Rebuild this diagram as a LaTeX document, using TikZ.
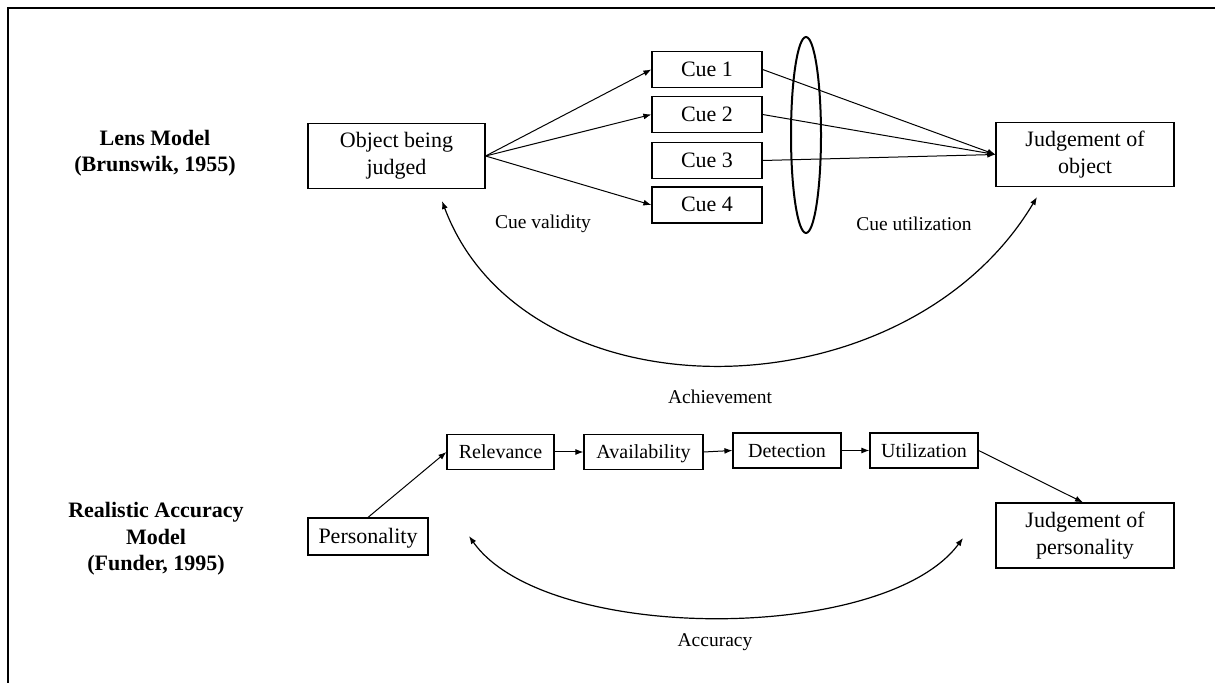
\documentclass[tikz,border=0pt]{standalone}
\usepackage{fontspec}
\setmainfont{Liberation Serif}
\usetikzlibrary{arrows.meta,shapes.geometric}

\begin{document}
\begin{tikzpicture}[x=0.5pt,y=-0.5pt,
  bigbox/.style={draw, line width=0.6pt, inner sep=0pt, align=center,
    font=\fontsize{11}{13.5}\selectfont},
  oneline/.style={text height=0.66em, text depth=0pt},
  chainbox/.style={bigbox, oneline, font=\fontsize{10}{12}\selectfont,
    minimum width=54pt, minimum height=17.5pt},
  cuebox/.style={bigbox, oneline, minimum width=55pt, minimum height=18pt},
  lbl/.style={inner sep=0pt, font=\fontsize{9.75}{12}\selectfont},
  heading/.style={inner sep=0pt, align=center,
    font=\fontsize{11}{13.25}\selectfont\bfseries},
  tip/.style={-{Latex[length=4pt,width=3pt]}},
  conn/.style={line width=0.5pt, tip},
  twoway/.style={line width=0.6pt, {Latex[length=4pt,width=3pt]}-{Latex[length=4pt,width=3pt]}},
]
\useasboundingbox (0,0) rectangle (1215,683);

% page frame (top and left rules)
\draw[line width=1pt] (8,683) -- (8,8) -- (1215,8);

% ---------- Lens Model ----------
\node[heading] (lenstitle) at (155,153) {Lens Model\\(Brunswik, 1955)};

\node[bigbox, minimum width=88.5pt, minimum height=32.5pt] (obj) at (396.5,156)
  {Object being\\judged};
\node[cuebox] (cue1) at (707,69.5) {Cue 1};
\node[cuebox] (cue2) at (707,114.5) {Cue 2};
\node[cuebox] (cue3) at (707,160.5) {Cue 3};
\node[cuebox] (cue4) at (707,205) {Cue 4};
\node[bigbox, minimum width=89pt, minimum height=32pt] (jobj) at (1085,154.5)
  {Judgement of\\object};

\node[draw, ellipse, line width=1pt, inner sep=0pt,
  minimum width=15pt, minimum height=98pt] (lens) at (806,135) {};

\foreach \c in {cue1,cue2,cue4}
  \draw[conn] (obj.east) -- (\c.west);
\foreach \c in {cue1,cue2,cue3}
  \draw[conn] (\c.east) -- (jobj.west);

\node[lbl] (validity) at (543,224) {Cue validity};
\node[lbl] (utilization) at (914,224) {Cue utilization};

\coordinate (achL) at (442,201);
\coordinate (achR) at (1037,197);
\draw[twoway] (achL) .. controls (525,422) and (905,418) .. (achR);
\node[lbl] (achievement) at (720,397) {Achievement};

% ---------- Realistic Accuracy Model ----------
\node[heading] (ramtitle) at (156,539)
  {Realistic Accuracy\\Model\\(Funder, 1995)};

\node[bigbox, oneline, minimum width=60pt, minimum height=18.5pt] (pers) at (368,536.5)
  {Personality};
\node[chainbox, minimum width=53.5pt] (rel) at (500.5,452) {Relevance};
\node[chainbox, minimum width=59.5pt] (avail) at (643.5,452) {Availability};
\node[chainbox] (det) at (787,450.5) {Detection};
\node[chainbox] (util) at (924,450.5) {Utilization};
\node[bigbox, minimum width=89pt, minimum height=32.5pt] (jpers) at (1085,535.5)
  {Judgement of\\personality};

\draw[conn] (pers.north) -- (rel.west);
\draw[conn] (rel.east) -- (avail.west);
\draw[conn] (avail.east) -- (det.west);
\draw[conn] (det.east) -- (util.west);
\draw[conn] (util.east) -- ([xshift=-1pt]jpers.north);

\coordinate (accL) at (469,536);
\coordinate (accR) at (963,538);
\draw[twoway] (accL) .. controls (545,644) and (885,644) .. (accR);
\node[lbl] (accuracy) at (715,642) {Accuracy};

\end{tikzpicture}
\end{document}
